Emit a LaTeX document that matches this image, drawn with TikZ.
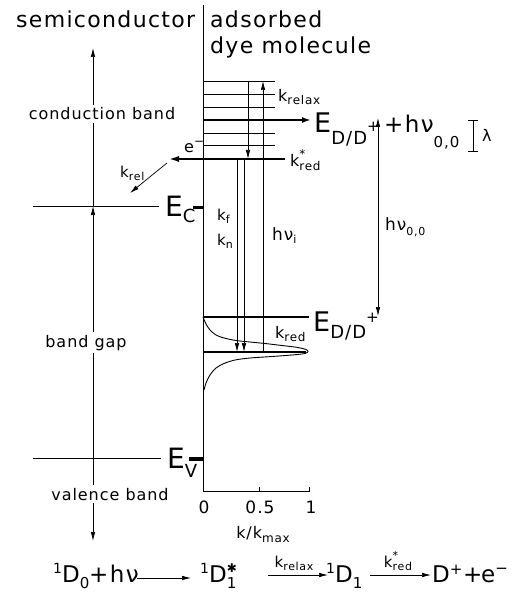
\documentclass[tikz,border=0pt]{standalone}
\usepackage{fontspec}
\setmainfont[LetterSpace=6]{DejaVu Sans}
\usetikzlibrary{arrows.meta}
\newcommand{\fs}[1]{\fontsize{#1}{#1}\selectfont}
\newcommand{\lowr}[3]{\raisebox{-#1}{\fs{#2}#3}}
\newcommand{\upr}[3]{\raisebox{#1}{\fs{#2}#3}}
\begin{document}
\begin{tikzpicture}[x=1pt,y=-1pt,
  thinline/.style={line width=0.7pt},
  lvl/.style={line width=0.7pt},
  thicklvl/.style={line width=2.6pt},
  tip/.style={-{Latex[length=9pt,width=4.5pt]}},
  txt/.style={inner sep=0pt, anchor=base west},
  ctxt/.style={inner sep=0pt, anchor=base},
  band/.style={inner sep=3pt, fill=white, anchor=base},
]
\useasboundingbox (0,0) rectangle (515,596);

% headers
\node[txt] (hsemi) at (16,28) {\fs{22}semiconductor};
\node[txt] (hads) at (210,28) {\fs{22}adsorbed};
\node[txt] (hdye) at (210,54) {\fs{22}dye molecule};

% divider and axis
\coordinate (dtop) at (203,5);
\coordinate (org) at (203,491);
\coordinate (axend) at (310,491);
\draw[thinline] (dtop) -- (org) -- (axend);
\coordinate (tk5) at (259,491); \coordinate (tk5u) at (259,487);
\coordinate (tk1) at (309,491); \coordinate (tk1u) at (309,487);
\draw[thinline] (tk5) -- (tk5u);
\draw[thinline] (tk1) -- (tk1u);
\node[ctxt] (n0) at (204,513) {\fs{17}0};
\node[ctxt] (n05) at (260,513) {\fs{17}0.5};
\node[ctxt] (n1) at (311,513) {\fs{17}1};
\node[ctxt] (kmax) at (263,538) {\fs{16}k/k\lowr{4pt}{12}{max}};

% semiconductor levels
\coordinate (ecl) at (33,206); \coordinate (ecr) at (159,206);
\draw[thinline] (ecl) -- (ecr);
\coordinate (evl) at (33,458); \coordinate (evr) at (161,458);
\draw[thinline] (evl) -- (evr);
\node[txt] (EC) at (165,216) {\fs{28}E\lowr{6pt}{18}{C}};
\node[txt] (EV) at (167,468) {\fs{28}E\lowr{9pt}{18}{V}};
\coordinate (ecm1) at (193,207); \coordinate (ecm2) at (203,207);
\draw[line width=3pt] (ecm1) -- (ecm2);
\coordinate (evm1) at (189,459); \coordinate (evm2) at (203,459);
\draw[line width=4pt] (evm1) -- (evm2);

% band arrows
\coordinate (cbtop) at (93,48);
\coordinate (ecx) at (93,206);
\coordinate (evx) at (93,458);
\coordinate (vbbot) at (93,541);
\draw[thinline,tip] (ecx) -- (cbtop);
\draw[thinline,tip] (evx) -- (ecx);
\draw[thinline,tip] (evx) -- (vbbot);
\node[band] (cb) at (102,120) {\fs{16}conduction band};
\node[band] (bg) at (86,347) {\fs{16}band gap};
\node[band] (vb) at (110,500) {\fs{16}valence band};

% dye levels
\foreach \yy [count=\i] in {81,94,107,133,145} {
  \coordinate (la\i) at (203,\yy); \coordinate (lb\i) at (275,\yy);
  \draw[lvl] (la\i) -- (lb\i);
}
\coordinate (ed1l) at (203,120); \coordinate (ed1r) at (311,120);
\draw[thicklvl,-{Latex[length=9pt,width=6pt]}] (ed1l) -- (ed1r);
\coordinate (etr) at (285,159); \coordinate (etl) at (168,159);
\draw[thicklvl,-{Latex[length=11pt,width=6pt]}] (etr) -- (etl);
\coordinate (krs) at (167,163); \coordinate (kre) at (130,193);
\draw[thinline,tip] (krs) -- (kre);

% verticals
\coordinate (v1t) at (248,81); \coordinate (v1b) at (248,159);
\draw[thinline,tip] (v1t) -- (v1b);
\coordinate (v2b) at (263,352); \coordinate (v2t) at (263,81);
\draw[thinline,tip] (v2b) -- (v2t);
\coordinate (v3t) at (237,159); \coordinate (v3b) at (237,352);
\draw[thinline,tip] (v3t) -- (v3b);
\coordinate (v4t) at (244,159); \coordinate (v4b) at (244,352);
\draw[thinline,tip] (v4t) -- (v4b);

% lower levels
\coordinate (ed2l) at (203,317); \coordinate (ed2r) at (309,317);
\draw[thicklvl] (ed2l) -- (ed2r);
\coordinate (g1l) at (203,352); \coordinate (g1r) at (306,352);
\draw[thicklvl] (g1l) -- (g1r);
\draw[line width=0.9pt] plot[smooth] coordinates {(203,317) (206,324) (210,330) (216,335) (224,338) (236,340.5) (250,342) (265,343.5) (282,345.5) (298,347.5) (306,349.5) (308,351.5) (305,353.5) (292,355) (272,356.5) (250,358) (235,360) (224,363.5) (216,368) (210,375) (206,383) (204,390)};

% labels dye side
\node[txt] (krelax) at (278,102) {\fs{16}k\lowr{3pt}{12}{relax}};
\node[txt] (kred1) at (290,167) {\fs{16}k\rlap{\upr{9pt}{12}{*}}\lowr{3pt}{12}{red}};
\node[txt] (em) at (184,153) {\fs{16}e\upr{7pt}{12}{−}};
\node[txt] (krel) at (120,177) {\fs{15}k\lowr{3pt}{11}{rel}};
\node[txt] (kf) at (217,220) {\fs{15}k\lowr{3pt}{11}{f}};
\node[txt] (kn) at (217,245) {\fs{15}k\lowr{3pt}{11}{n}};
\node[txt] (hni) at (272,240) {\fs{17}hν\lowr{3pt}{11}{i}};
\node[txt] (kred2) at (275,338) {\fs{16}k\lowr{3pt}{12}{red}};

% right side
\node[txt] (EDt) at (314,133) {\fs{27}E\lowr{12pt}{18}{D/D}\upr{1.5pt}{15}{+}};
\node[txt] (hn00) at (384,133) {\fs{23}+hν\lowr{14pt}{15}{0,0}};
\coordinate (hvt) at (378,118); \coordinate (hvb) at (378,316);
\draw[thinline,{Latex[length=9pt,width=4.5pt]}-{Latex[length=9pt,width=4.5pt]}] (hvt) -- (hvb);
\node[txt] (hn00b) at (385,230) {\fs{17}hν\lowr{5pt}{11}{0,0}};
\coordinate (lt) at (473,120); \coordinate (lb) at (473,151);
\draw[thinline] (lt) -- (lb);
\coordinate (lt1) at (468,120); \coordinate (lt2) at (478,120);
\draw[thinline] (lt1) -- (lt2);
\coordinate (lb1) at (468,151); \coordinate (lb2) at (478,151);
\draw[thinline] (lb1) -- (lb2);
\node[txt] (lam) at (482,142) {\fs{16}λ};
\node[txt] (EDb) at (313,331) {\fs{27}E\lowr{7pt}{18}{D/D}\upr{8.5pt}{15}{+}};

% bottom equation
\node[txt] (eqD0) at (53,582) {\fs{23}\upr{9pt}{14}{1}D\lowr{6pt}{15}{0}};
\node[txt] (eqhv) at (89,582) {\fs{23}+hν};
\coordinate (a1s) at (137,578); \coordinate (a1e) at (191,578);
\draw[thinline,tip] (a1s) -- (a1e);
\node[txt] (eqD1s) at (200,582) {\fs{23}\upr{9pt}{14}{1}D\rlap{\lowr{6pt}{15}{1}}\upr{10pt}{12}{✱}};
\coordinate (a2s) at (268,575); \coordinate (a2e) at (328,575);
\draw[thinline,tip] (a2s) -- (a2e);
\node[ctxt] (krelaxb) at (294,567) {\fs{15}k\lowr{3pt}{11}{relax}};
\node[txt] (eqD1) at (326,582) {\fs{23}\upr{9pt}{14}{1}D\lowr{6pt}{15}{1}};
\coordinate (a3s) at (370,575); \coordinate (a3e) at (431,575);
\draw[thinline,tip] (a3s) -- (a3e);
\node[ctxt] (kredb) at (398,567) {\fs{15}k\rlap{\upr{8pt}{11}{*}}\lowr{3pt}{11}{red}};
\node[txt] (eqDp) at (432,582) {\fs{23}D\upr{8pt}{15}{+}};
\node[txt] (eqplus) at (463,582) {\fs{23}+};
\node[txt] (eqe) at (481,582) {\fs{23}e\upr{9pt}{15}{−}};
\end{tikzpicture}
\end{document}
